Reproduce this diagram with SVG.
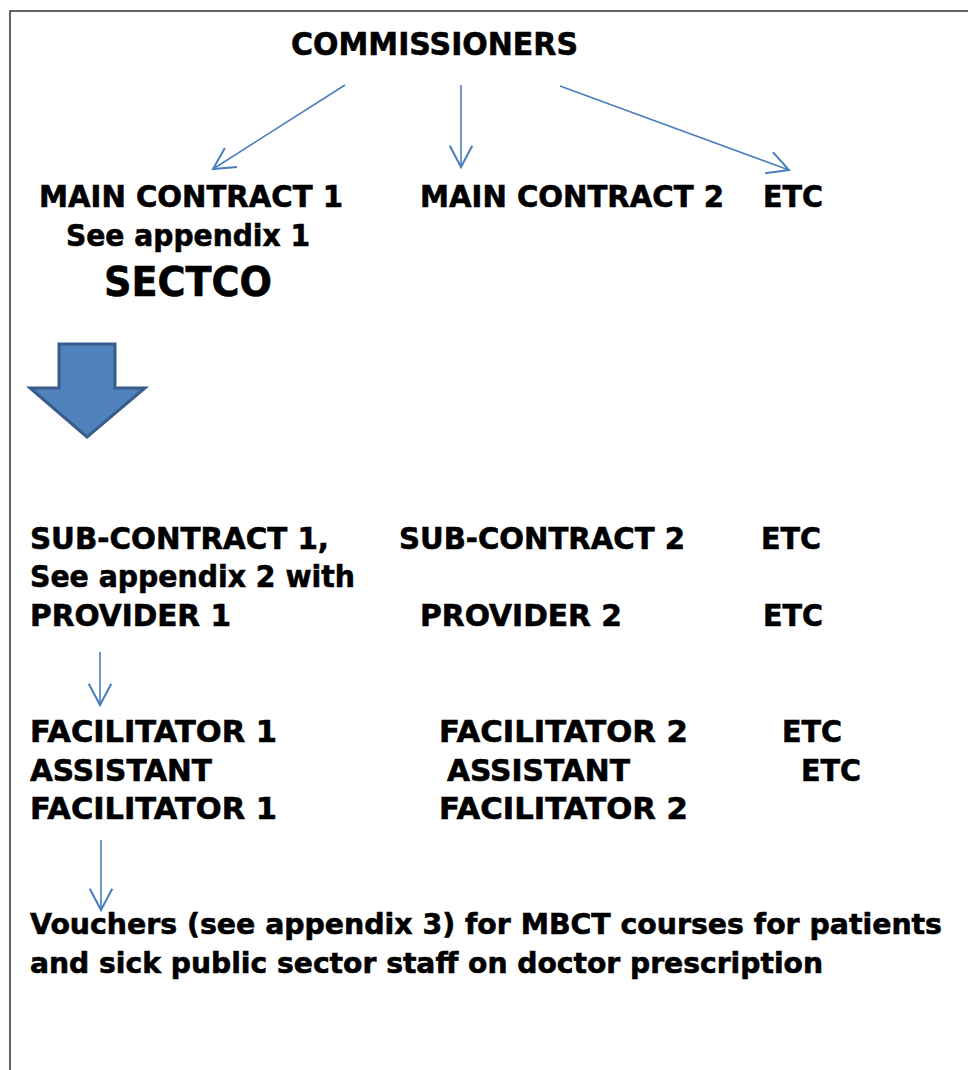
<svg xmlns="http://www.w3.org/2000/svg" width="968" height="1070" viewBox="0 0 968 1070">
<style>
text{font-family:"DejaVu Sans","Verdana",sans-serif;font-weight:bold;fill:#000;stroke:#000;stroke-width:0.6;font-size:29.5px}
.c{stroke:#4A7EBB;stroke-width:1.6;fill:none}
.big{font-size:40px}
.com{font-size:32px}
.v{font-size:28px}
</style>
<defs>
<marker id="ah" markerUnits="userSpaceOnUse" markerWidth="30" markerHeight="30" viewBox="-20 -12 24 24" refX="0" refY="0" orient="auto">
<path d="M-17,-9 L0,0 L-17,9" fill="none" stroke="#4A7EBB" stroke-width="1.6"/>
</marker>
</defs>
<rect width="968" height="1070" fill="#fff"/>
<g id="border"><path d="M10,1070 V11 H968" fill="none" stroke="#333" stroke-width="1.5"/></g>
<g id="n-commissioners"><text x="291" y="55" class="com" textLength="287" lengthAdjust="spacingAndGlyphs">COMMISSIONERS</text></g>
<g id="n-main1">
<text x="39" y="207" textLength="304" lengthAdjust="spacingAndGlyphs">MAIN CONTRACT 1</text>
<text x="66" y="246" textLength="244" lengthAdjust="spacingAndGlyphs">See appendix 1</text>
<text x="104" y="296" class="big" textLength="168" lengthAdjust="spacingAndGlyphs">SECTCO</text>
</g>
<g id="n-main2"><text x="420" y="207" textLength="304" lengthAdjust="spacingAndGlyphs">MAIN CONTRACT 2</text></g>
<g id="n-main-etc"><text x="763" y="207" textLength="60" lengthAdjust="spacingAndGlyphs">ETC</text></g>
<g id="n-block-arrow"><path d="M59,344 H115 V388 H145 L87,437 L30,388 H59 Z" fill="#4F81BD" stroke="#385D8A" stroke-width="3" stroke-linejoin="miter"/></g>
<g id="n-sub1">
<text x="30" y="549" textLength="299" lengthAdjust="spacingAndGlyphs">SUB-CONTRACT 1,</text>
<text x="30" y="587" textLength="325" lengthAdjust="spacingAndGlyphs">See appendix 2 with</text>
<text x="30" y="626" textLength="201" lengthAdjust="spacingAndGlyphs">PROVIDER 1</text>
</g>
<g id="n-sub2">
<text x="399" y="549" textLength="286" lengthAdjust="spacingAndGlyphs">SUB-CONTRACT 2</text>
<text x="420" y="626" textLength="202" lengthAdjust="spacingAndGlyphs">PROVIDER 2</text>
</g>
<g id="n-sub-etc">
<text x="761" y="549" textLength="60" lengthAdjust="spacingAndGlyphs">ETC</text>
<text x="763" y="626" textLength="60" lengthAdjust="spacingAndGlyphs">ETC</text>
</g>
<g id="n-fac1">
<text x="30" y="742" textLength="247" lengthAdjust="spacingAndGlyphs">FACILITATOR 1</text>
<text x="30" y="781" textLength="182" lengthAdjust="spacingAndGlyphs">ASSISTANT</text>
<text x="30" y="819" textLength="247" lengthAdjust="spacingAndGlyphs">FACILITATOR 1</text>
</g>
<g id="n-fac2">
<text x="439" y="742" textLength="249" lengthAdjust="spacingAndGlyphs">FACILITATOR 2</text>
<text x="447" y="781" textLength="183" lengthAdjust="spacingAndGlyphs">ASSISTANT</text>
<text x="439" y="819" textLength="249" lengthAdjust="spacingAndGlyphs">FACILITATOR 2</text>
</g>
<g id="n-fac-etc">
<text x="782" y="742" textLength="60" lengthAdjust="spacingAndGlyphs">ETC</text>
<text x="801" y="781" textLength="60" lengthAdjust="spacingAndGlyphs">ETC</text>
</g>
<g id="n-vouchers">
<text x="30" y="934" class="v" textLength="912" lengthAdjust="spacingAndGlyphs">Vouchers (see appendix 3) for MBCT courses for patients</text>
<text x="30" y="973" class="v" textLength="793" lengthAdjust="spacingAndGlyphs">and sick public sector staff on doctor prescription</text>
</g>
<g id="connectors">
<line class="c" x1="345" y1="85" x2="213" y2="169" marker-end="url(#ah)"/>
<line class="c" x1="461" y1="85" x2="461" y2="167" marker-end="url(#ah)"/>
<line class="c" x1="560" y1="86" x2="789" y2="170" marker-end="url(#ah)"/>
<line class="c" x1="100" y1="652" x2="100" y2="705" marker-end="url(#ah)"/>
<line class="c" x1="101" y1="840" x2="101" y2="910" marker-end="url(#ah)"/>
</g>
</svg>
